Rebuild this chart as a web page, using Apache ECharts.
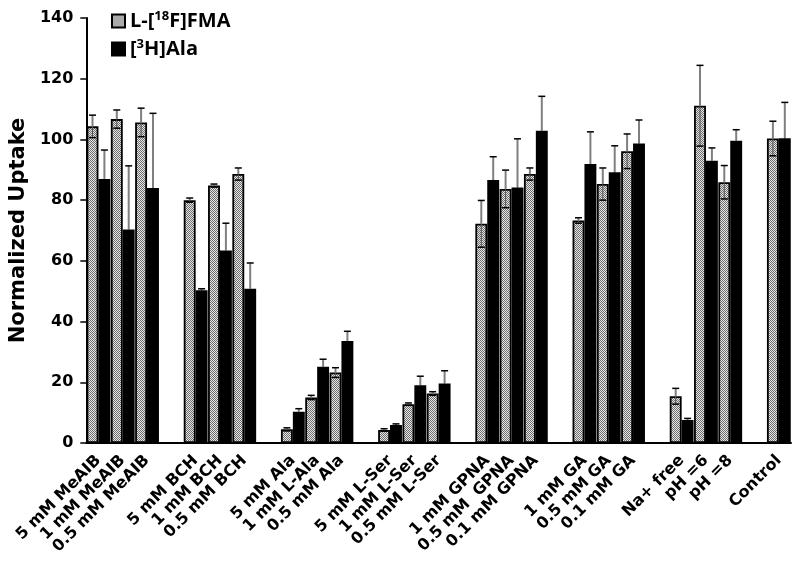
<!DOCTYPE html>
<html>
<head>
<meta charset="utf-8">
<script src="https://cdn.jsdelivr.net/npm/echarts@6/dist/echarts.min.js"></script>
<style>
html,body{margin:0;padding:0;background:#fff;}
#chart{width:800px;height:567px;}
</style>
</head>
<body>
<div id="chart"></div>
<script>
var categories = ['5 mM MeAIB','1 mM MeAIB','0.5 mM MeAIB','',
  '5 mM BCH','1 mM BCH','0.5 mM BCH','',
  '5 mM Ala','1 mM L-Ala','0.5 mM Ala','',
  '5 mM L-Ser','1 mM L-Ser','0.5 mM L-Ser','',
  '1 mM GPNA','0.5 mM  GPNA','0.1 mM GPNA','',
  '1 mM GA','0.5 mM GA','0.1 mM GA','',
  'Na+ free','pH =6','pH =8','',
  'Control'];
var fmaValues = [104.3,106.7,105.6,null, 80,84.8,88.6,null, 4.5,15,23.2,null, 4.3,12.8,16.3,null, 72.2,83.7,88.6,null, 73.3,85.3,96.1,null, 15.4,111.1,85.9,null, 100.3];
var fmaErrors = [3.7,3,4.7,null, 0.7,0.5,2,null, 0.5,0.7,1.6,null, 0.4,0.4,0.6,null, 7.7,6.2,2,null, 0.9,5.3,5.7,null, 2.6,13.3,5.5,null, 5.7];
var alaValues = [87,70.3,84,null, 50.3,63.4,50.8,null, 10.3,25.1,33.6,null, 5.9,19,19.6,null, 86.6,84.2,102.9,null, 91.9,89.2,98.7,null, 7.6,93,99.6,null, 100.4];
var alaErrors = [9.5,21,24.6,null, 0.5,9,8.5,null, 1,2.5,3.2,null, 0.4,3,4.2,null, 7.7,16,11.3,null, 10.6,8.7,7.7,null, 0.5,4.2,3.6,null, 11.8];
var yTicks = [0,20,40,60,80,100,120,140];

var pc = document.createElement('canvas');
pc.width = 2; pc.height = 2;
var pctx = pc.getContext('2d');
pctx.fillStyle = '#e6e6e6'; pctx.fillRect(0,0,2,2);
pctx.fillStyle = '#6e6e6e'; pctx.fillRect(0,0,1,1); pctx.fillRect(1,1,1,1);
var dotted = {image: pc, repeat: 'repeat'};

var catGap = 0.02;
function errData(vals, errs) {
  var out = [];
  for (var i = 0; i < vals.length; i++) {
    if (vals[i] != null) out.push([i, vals[i], errs[i]]);
  }
  return out;
}
function errRender(side) {
  return function (params, api) {
    var i = api.value(0), v = api.value(1), e = api.value(2);
    var band = api.size([1, 0])[0];
    var bw = band * (1 - catGap) / 2;
    var cx = api.coord([i, 0])[0] + side * bw / 2;
    var yTop = api.coord([i, v + e])[1];
    var yMid = api.coord([i, v])[1];
    var yBot = api.coord([i, Math.max(v - e, 0)])[1];
    var cap = 3.5;
    return {type: 'group', children: [
      {type: 'line', shape: {x1: cx, y1: yMid, x2: cx, y2: yTop}, style: {stroke: '#7f7f7f', lineWidth: 2}},
      {type: 'line', shape: {x1: cx - cap, y1: yTop, x2: cx + cap, y2: yTop}, style: {stroke: '#000', lineWidth: 1.5}},
      {type: 'line', shape: {x1: cx, y1: yMid, x2: cx, y2: yBot}, style: {stroke: side < 0 ? '#555' : '#000', lineWidth: 1}},
      {type: 'line', shape: {x1: cx - cap, y1: yBot, x2: cx + cap, y2: yBot}, style: {stroke: '#000', lineWidth: 1.5}}
    ]};
  };
}

var chart = echarts.init(document.getElementById('chart'), null, {renderer: 'canvas'});
chart.setOption({
  animation: false,
  backgroundColor: '#fff',
  textStyle: {fontFamily: 'DejaVu Sans'},
  grid: {left: 83, right: 9, top: 18, bottom: 124, containLabel: false},
  legend: {
    orient: 'vertical', left: 106, top: 5, itemGap: 7,
    itemWidth: 13, itemHeight: 13, icon: 'rect',
    data: ['L-[18F]FMA', '[3H]Ala'],
    formatter: function (name) {
      if (name === 'L-[18F]FMA') return '{b|L-[}{s|18}{b|F]FMA}';
      return '{b|[}{s|3}{b|H]Ala}';
    },
    textStyle: {
      rich: {
        b: {fontFamily: 'Open Sans', fontWeight: 'bold', fontSize: 20, color: '#000'},
        s: {fontFamily: 'Open Sans', fontWeight: 'bold', fontSize: 13, color: '#000', padding: [0, 0, 9, 0]}
      }
    }
  },
  xAxis: {
    type: 'category', data: categories,
    axisLine: {lineStyle: {color: '#000', width: 2}},
    axisTick: {show: false},
    axisLabel: {interval: 0, rotate: 45, margin: 15, color: '#000', fontWeight: 'bold', fontSize: 16, fontFamily: 'DejaVu Sans'}
  },
  yAxis: {
    type: 'value', min: yTicks[0], max: yTicks[yTicks.length - 1], interval: 20,
    name: 'Normalized Uptake', nameLocation: 'middle', nameGap: 56,
    nameTextStyle: {color: '#000', fontWeight: 'bold', fontSize: 21, fontFamily: 'DejaVu Sans'},
    axisLine: {show: true, lineStyle: {color: '#000', width: 2}},
    axisTick: {show: true, inside: false, length: 6, lineStyle: {color: '#000', width: 1.5}},
    axisLabel: {color: '#000', fontWeight: 'bold', fontSize: 16, margin: 13, fontFamily: 'DejaVu Sans'},
    splitLine: {show: false}
  },
  series: [
    {name: 'L-[18F]FMA', type: 'bar', data: fmaValues, barGap: '0%', barCategoryGap: (catGap * 100) + '%',
     itemStyle: {color: dotted, borderColor: '#000', borderWidth: 1.8}},
    {name: '[3H]Ala', type: 'bar', data: alaValues, barGap: '0%', barCategoryGap: (catGap * 100) + '%',
     itemStyle: {color: '#000', borderColor: '#000', borderWidth: 1.8}},
    {type: 'custom', renderItem: errRender(-1), data: errData(fmaValues, fmaErrors), z: 5, silent: true},
    {type: 'custom', renderItem: errRender(1), data: errData(alaValues, alaErrors), z: 5, silent: true}
  ]
});
</script>
</body>
</html>
